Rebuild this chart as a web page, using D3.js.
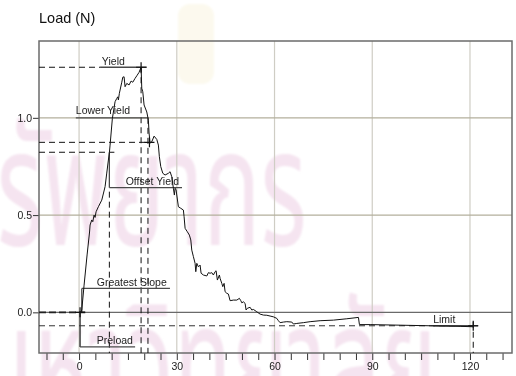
<!DOCTYPE html>
<html>
<head>
<meta charset="utf-8">
<script src="https://cdn.jsdelivr.net/npm/d3@7"></script>
<style>
  html, body { margin: 0; padding: 0; background: #fff; }
  svg { display: block; font-family: "Liberation Sans", Arial, Helvetica, sans-serif; }
</style>
</head>
<body>
<svg id="chart" width="516" height="376"></svg>
<script>
// Load vs. extension trace (test record)
const curveX = [0, 0.61, 0.83, 1.54, 2.46, 3.22, 3.38, 3.90, 4.21, 4.61, 4.91, 5.22, 5.93, 6.97, 7.98, 8.50,
  9.00, 9.30, 9.52, 10.22, 11.05, 11.58, 11.88, 12.07, 12.37, 13.11, 13.42, 13.82, 14.12, 14.65, 15.35,
  15.97, 16.49, 17.19, 17.72, 18.42, 19.04, 19.25, 19.56, 19.96, 20.79, 21.28, 21.49, 21.80, 22.32, 23.03,
  23.86, 24.35, 24.65, 25.08, 25.70, 26.40, 27.42, 27.94, 28.46, 28.95, 29.26, 29.48, 29.78, 30.49, 31.22,
  32.02, 32.24, 32.55, 33.25, 33.87, 34.30, 34.60, 35.10, 35.62, 35.83, 36.14, 36.63, 37.15, 37.46, 38.16,
  39.21, 39.70, 40.22, 40.74, 41.23, 41.76, 42.06, 42.46, 43.08, 43.29, 43.81, 44.12, 44.52, 44.83, 45.35,
  45.84, 46.36, 47.37, 48.42, 49.22, 49.65, 49.96, 50.45, 50.97, 51.27, 51.67, 52.50, 53.02, 53.51, 54.56,
  55.57, 56.59, 57.63, 58.64, 59.66, 60.70, 61.19, 61.71, 62.72, 63.77, 65.31, 65.80, 66.84, 68.87, 70.93,
  73.99, 78.08, 82.19, 85.76, 86.06, 89.35, 98.56, 107.77, 116.99, 120.97];
const curveY = [0, 0.002, 0.012, 0.140, 0.295, 0.413, 0.449, 0.475, 0.466, 0.500, 0.488, 0.517, 0.543, 0.577,
  0.646, 0.716, 0.783, 0.821, 0.860, 0.997, 1.083, 1.100, 1.108, 1.092, 1.126, 1.183, 1.209, 1.211, 1.160,
  1.177, 1.169, 1.189, 1.183, 1.203, 1.216, 1.234, 1.260, 1.152, 1.134, 1.066, 1.030, 0.988, 0.922, 0.870,
  0.877, 0.906, 0.889, 0.860, 0.800, 0.749, 0.715, 0.706, 0.715, 0.723, 0.697, 0.638, 0.603, 0.638, 0.629,
  0.543, 0.535, 0.526, 0.492, 0.432, 0.414, 0.397, 0.372, 0.320, 0.286, 0.252, 0.209, 0.252, 0.234, 0.243,
  0.201, 0.192, 0.187, 0.204, 0.201, 0.204, 0.192, 0.209, 0.214, 0.166, 0.192, 0.175, 0.149, 0.132, 0.149,
  0.106, 0.098, 0.094, 0.060, 0.063, 0.063, 0.072, 0.060, 0.049, 0.054, 0.046, 0.012, 0.021, 0.026, 0.012,
  0.015, 0.003, -0.009, -0.014, -0.015, -0.019, -0.023, -0.031, -0.043, -0.053, -0.050, -0.048, -0.050,
  -0.060, -0.057, -0.053, -0.048, -0.043, -0.040, -0.033, -0.026, -0.063, -0.063, -0.066, -0.069, -0.072, -0.074];

// Result points found on the trace
const resultNames = ["Yield", "Lower Yield", "Offset Yield", "Greatest Slope", "Preload", "Limit"];
const resultX = [19.04, 21.3, 9.3, 0.83, 0.3, 121.0];
const resultY = [1.26, 0.874, 0.823, 0.0, 0.0, -0.069];

// Axis ticks
const xMinorTicks = d3.range(-10, 131, 5);
const xLabelTicks = [0, 30, 60, 90, 120];
const yTicks = [0.0, 0.5, 1.0];
const yTitle = "Load (N)";

// Background stamp lines
const stampLines = ["ทรัพยากร", "มหาวิทยาลัย"];

const svg = d3.select("#chart");
const plot = { left: 39, right: 512, top: 41, bottom: 353 };

const x = d3.scaleLinear().domain([-12.3, 132.9]).range([plot.left, plot.right]);
const y = d3.scaleLinear().domain([-0.209, 1.395]).range([plot.bottom, plot.top]);

// Soft edge for the background stamp
const defs = svg.append("defs");
defs.append("filter").attr("id", "soft").append("feGaussianBlur").attr("stdDeviation", 1.2);

// Faint background stamp, drawn first so everything sits on top
const wm = svg.append("g").attr("class", "stamp").attr("filter", "url(#soft)")
  .style("font-family", "'Noto Sans Thai', 'Noto Serif Thai', Garuda, Loma, 'Tlwg Typo', sans-serif")
  .attr("fill", "#f5e4f0");
wm.append("rect").attr("x", 178).attr("y", 4).attr("width", 36).attr("height", 80).attr("rx", 12)
  .attr("fill", "#fcf9ee");
wm.append("g").attr("transform", "translate(-61,245) scale(0.79,1.36)")
  .append("text").attr("font-size", 120).text(stampLines[0]);
wm.append("g").attr("transform", "translate(-25,420) scale(0.79,1.36)")
  .append("text").attr("font-size", 120).text(stampLines[1]);

// Grid
const grid = svg.append("g");
grid.selectAll("line.vg").data(xLabelTicks).join("line")
  .attr("x1", d => x(d)).attr("x2", d => x(d))
  .attr("y1", plot.top).attr("y2", plot.bottom)
  .attr("stroke", "#cfcdc4").attr("stroke-width", 1.2);
grid.selectAll("line.hg").data(yTicks).join("line")
  .attr("x1", plot.left).attr("x2", plot.right)
  .attr("y1", d => y(d)).attr("y2", d => y(d))
  .attr("stroke", d => d === 0 ? "#6a6a6a" : "#b3af9c").attr("stroke-width", 1.2);

// Axes
const xAxis = d3.axisBottom(x).tickValues(xMinorTicks).tickSize(7).tickPadding(3)
  .tickFormat(d => xLabelTicks.includes(d) ? String(d) : "");
const gx = svg.append("g").attr("transform", `translate(0,${plot.bottom})`).call(xAxis);
gx.select(".domain").remove();
gx.selectAll(".tick line").attr("stroke", "#333");
gx.selectAll("text").attr("font-size", 10.5).attr("fill", "#222")
  .style("font-family", "'Liberation Sans', Arial, sans-serif");

const yAxis = d3.axisLeft(y).tickValues(yTicks).tickSize(6).tickPadding(1).tickFormat(d3.format(".1f"));
const gy = svg.append("g").attr("transform", `translate(${plot.left},0)`).call(yAxis);
gy.select(".domain").remove();
gy.selectAll(".tick line").attr("stroke", "#333");
gy.selectAll("text").attr("font-size", 10.5).attr("fill", "#222")
  .style("font-family", "'Liberation Sans', Arial, sans-serif");

svg.append("text").attr("x", 39).attr("y", 23).attr("font-size", 14.5).attr("fill", "#111")
  .text(yTitle);

// Plot frame
svg.append("rect").attr("x", plot.left).attr("y", plot.top)
  .attr("width", plot.right - plot.left).attr("height", plot.bottom - plot.top)
  .attr("fill", "none").attr("stroke", "#6b6b6b").attr("stroke-width", 1.5);

const pts = curveX.map((v, i) => [v, curveY[i]]);
const R = i => ({ x: resultX[i], y: resultY[i] });
const dash = "6,4";
const ann = svg.append("g");

function dashed(x1, y1, x2, y2, color) {
  ann.append("line").attr("x1", x1).attr("y1", y1).attr("x2", x2).attr("y2", y2)
    .attr("stroke", color || "#111").attr("stroke-width", 1).attr("stroke-dasharray", dash);
}
function solid(x1, y1, x2, y2, w) {
  ann.append("line").attr("x1", x1).attr("y1", y1).attr("x2", x2).attr("y2", y2)
    .attr("stroke", "#4a4a4a").attr("stroke-width", w || 1.3);
}
function cross(px, py) {
  ann.append("path").attr("d", `M${px - 5},${py}H${px + 5}M${px},${py - 5}V${py + 5}`)
    .attr("stroke", "#111").attr("stroke-width", 1.2);
}
function label(text, tx, ty) {
  ann.append("text").attr("x", tx).attr("y", ty).attr("font-size", 10.5).attr("fill", "#222")
    .text(text);
}

// Yield (peak)
{
  const p = R(0);
  dashed(plot.left, y(p.y), x(6.45), y(p.y));
  solid(x(6.45), y(p.y), x(20.8), y(p.y));
  dashed(x(p.x), y(p.y), x(p.x), plot.bottom);
  cross(x(p.x), y(p.y));
  label(resultNames[0], x(7.0), y(p.y) - 2.5);
}
// Lower yield
{
  const p = R(1);
  dashed(plot.left, y(p.y), x(p.x) + 2, y(p.y));
  dashed(x(p.x) - 0.5, y(1.0), x(p.x) - 0.5, plot.bottom);
  solid(x(-1.0), y(1.0), x(p.x), y(1.0));
  cross(x(p.x) + 1, y(p.y));
  label(resultNames[1], x(-1.0), y(1.0) - 3.5);
}
// Offset yield
{
  const p = R(2);
  dashed(plot.left, y(p.y), x(p.x) + 5, y(p.y));
  solid(x(p.x), y(p.y), x(p.x), y(0.641));
  solid(x(p.x), y(0.641), x(31.6), y(0.641));
  dashed(x(p.x), y(0.641) + 4, x(p.x), plot.bottom);
  label(resultNames[2], x(14.3), y(0.641) - 2.5);
}
// Greatest slope
{
  const p = R(3);
  solid(x(p.x), y(p.y), x(p.x), y(0.123));
  solid(x(p.x), y(0.123), x(27.9), y(0.123));
  label(resultNames[3], x(5.43), y(0.123) - 2.5);
}
// Preload
{
  const p = R(4);
  ann.append("line").attr("x1", plot.left).attr("x2", x(1.9)).attr("y1", y(p.y)).attr("y2", y(p.y))
    .attr("stroke", "#222").attr("stroke-width", 1.6).attr("stroke-dasharray", "7,3");
  solid(x(p.x), y(p.y), x(p.x), y(-0.178), 1.6);
  solid(x(p.x), y(-0.178), x(17.2), y(-0.178));
  cross(x(p.x), y(p.y));
  label(resultNames[4], x(5.43), y(-0.178) - 2.5);
}
// Limit
{
  const p = R(5);
  dashed(plot.left, y(p.y), x(p.x), y(p.y), "#333");
  dashed(x(p.x), y(p.y) - 4, x(p.x), plot.bottom);
  solid(x(108.7), y(p.y), x(122.5), y(p.y));
  cross(x(p.x), y(p.y));
  label(resultNames[5], x(108.7), y(p.y) - 2.5);
}

// Trace
svg.append("path").datum(pts)
  .attr("fill", "none").attr("stroke", "#111").attr("stroke-width", 1)
  .attr("d", d3.line().x(d => x(d[0])).y(d => y(d[1])));
</script>
</body>
</html>
